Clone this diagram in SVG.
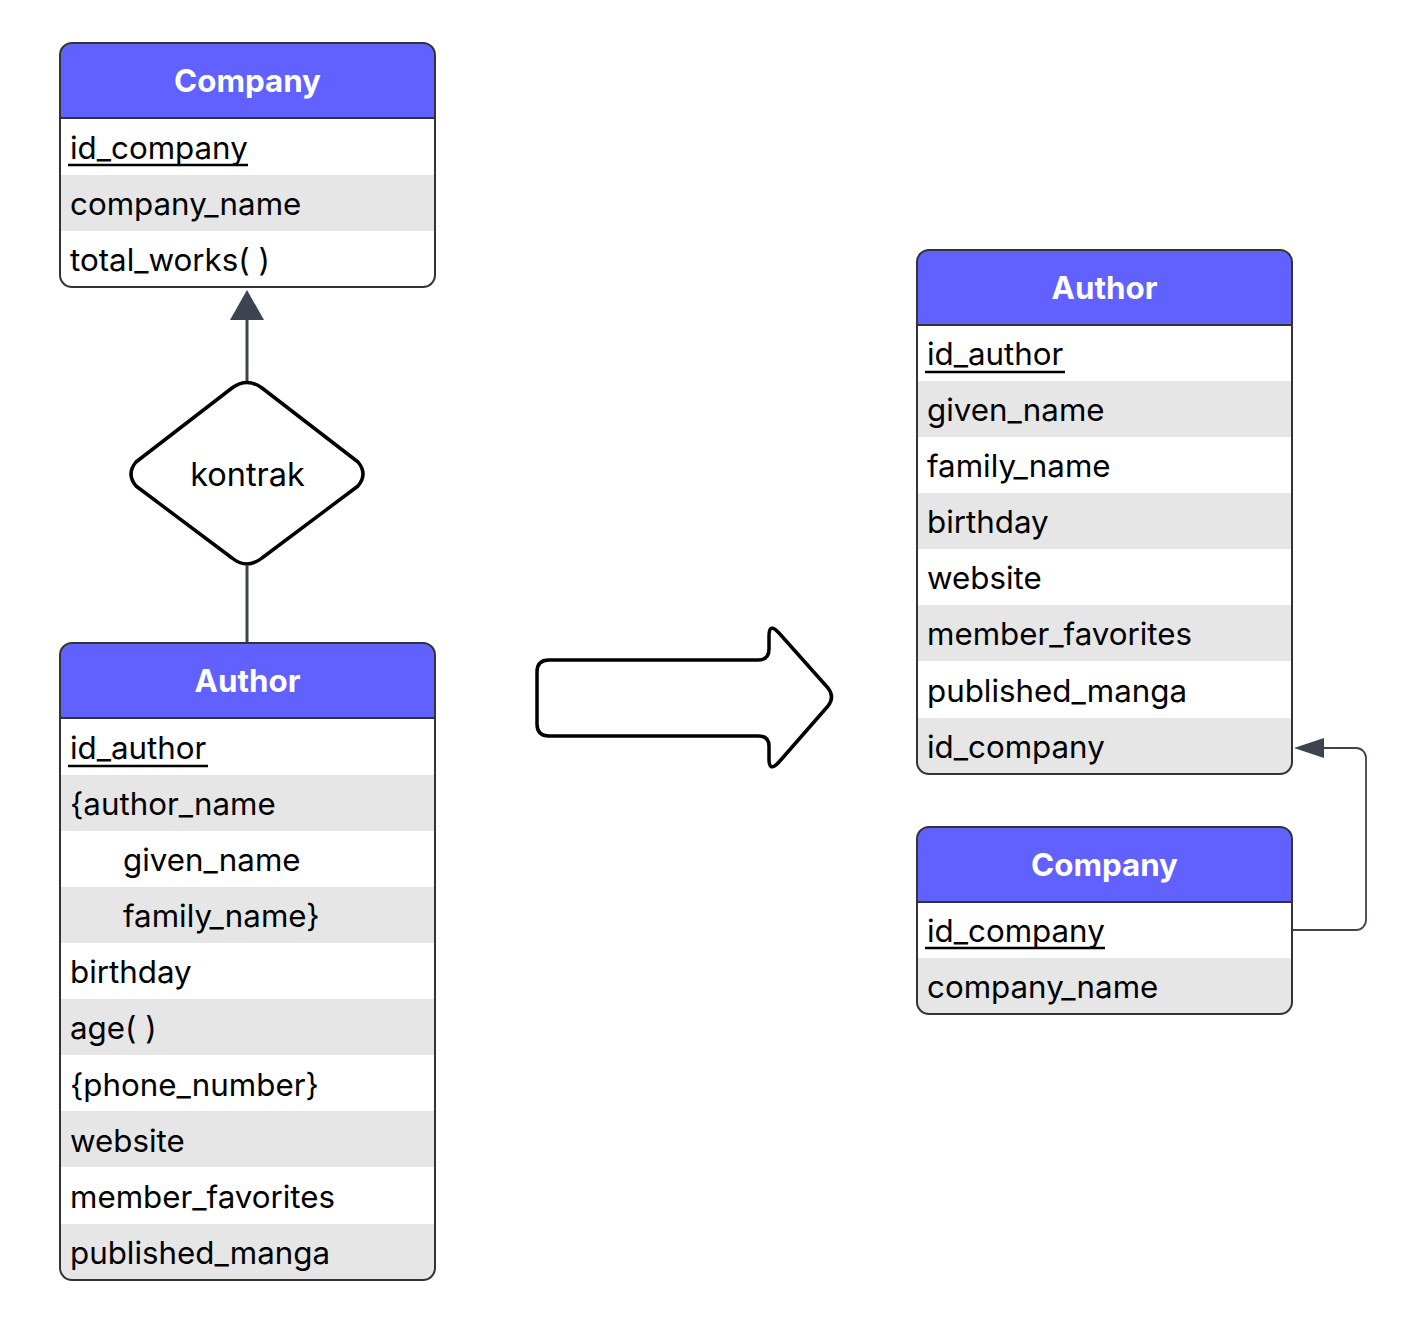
<svg xmlns="http://www.w3.org/2000/svg" width="1416" height="1330" viewBox="0 0 1416 1330">
<style>
.box{fill:none;stroke:#333333;stroke-width:2}
.hdr{fill:#6161ff}
.gray{fill:#e6e6e6}
.sep{stroke:#333333;stroke-width:2}
.ht{font-family:Inter,"Liberation Sans",sans-serif;font-size:31.3px;font-weight:700;fill:#ffffff;text-anchor:middle}
.t{font-family:Inter,"Liberation Sans",sans-serif;font-size:31.3px;fill:#000000}
.ul{stroke:#000000;stroke-width:2.5}
.conn{fill:none;stroke:#3d4450;stroke-width:3}
.conn2{fill:none;stroke:#3d4450;stroke-width:1.8}
</style>
<defs>
<clipPath id="c1"><rect x="60" y="43" width="375" height="244" rx="12"/></clipPath>
<clipPath id="c2"><rect x="60" y="643" width="375" height="637" rx="12"/></clipPath>
<clipPath id="c3"><rect x="917" y="250" width="375" height="524" rx="12"/></clipPath>
<clipPath id="c4"><rect x="917" y="827" width="375" height="187" rx="12"/></clipPath>
</defs>
<g id="connectors">
<line class="conn" x1="247" y1="383" x2="247" y2="318"/>
<polygon points="247,290 230,320 264,320" fill="#3d4450"/>
<line class="conn" x1="247" y1="566" x2="247" y2="643"/>
<path class="conn2" d="M1292,930 H1356 A10,10 0 0 0 1366,920 V758 A10,10 0 0 0 1356,748 H1322"/>
<polygon points="1294,748 1324,738 1324,758" fill="#3d4450"/>
</g>
<g id="company-left">
<g clip-path="url(#c1)">
<rect x="60" y="43" width="375" height="244" fill="#ffffff"/>
<rect class="hdr" x="60" y="43" width="375" height="75"/>
<rect class="gray" x="60" y="175" width="375" height="56"/>
</g>
<line class="sep" x1="60" y1="118" x2="435" y2="118"/>
<rect class="box" x="60" y="43" width="375" height="244" rx="12"/>
<text class="ht" x="247.5" y="92">Company</text>
<text class="t" x="70" y="159">id_company</text>
<line class="ul" x1="68" y1="165" x2="248" y2="165"/>
<text class="t" x="70" y="215">company_name</text>
<text class="t" x="70" y="271">total_works( )</text>
</g>
<g id="kontrak">
<path d="M232,388 Q247,377 262,388 L358,462 Q368,474 358,486 L262,558 Q247,570 232,558 L136,486 Q126,474 136,462 Z" fill="#ffffff" stroke="#000000" stroke-width="3.5" stroke-linejoin="round"/>
<text class="t" x="247.5" y="486" text-anchor="middle" style="font-size:32.5px">kontrak</text>
</g>
<g id="author-left">
<g clip-path="url(#c2)">
<rect x="60" y="643" width="375" height="637" fill="#ffffff"/>
<rect class="hdr" x="60" y="643" width="375" height="75"/>
<rect class="gray" x="60" y="775" width="375" height="56"/>
<rect class="gray" x="60" y="887" width="375" height="56"/>
<rect class="gray" x="60" y="999" width="375" height="56"/>
<rect class="gray" x="60" y="1111" width="375" height="56"/>
<rect class="gray" x="60" y="1224" width="375" height="56"/>
</g>
<line class="sep" x1="60" y1="718" x2="435" y2="718"/>
<rect class="box" x="60" y="643" width="375" height="637" rx="12"/>
<text class="ht" x="247.5" y="692">Author</text>
<text class="t" x="70" y="759">id_author</text>
<line class="ul" x1="68" y1="766" x2="208" y2="766"/>
<text class="t" x="70" y="815">{author_name</text>
<text class="t" x="123" y="871">given_name</text>
<text class="t" x="123" y="927">family_name}</text>
<text class="t" x="70" y="983">birthday</text>
<text class="t" x="70" y="1039">age( )</text>
<text class="t" x="70" y="1096">{phone_number}</text>
<text class="t" x="70" y="1152">website</text>
<text class="t" x="70" y="1208">member_favorites</text>
<text class="t" x="70" y="1264">published_manga</text>
</g>
<g id="transform-arrow">
<path d="M549,660 H758 Q769,660 769,649 V636 Q769,622 779,633 L828,688 Q835,697 828,706 L779,762 Q769,773 769,759 V746 Q769,736 758,736 H549 Q537,736 537,724 V672 Q537,660 549,660 Z" fill="#ffffff" stroke="#000000" stroke-width="3.5" stroke-linejoin="round"/>
</g>
<g id="author-right">
<g clip-path="url(#c3)">
<rect x="917" y="250" width="375" height="524" fill="#ffffff"/>
<rect class="hdr" x="917" y="250" width="375" height="75"/>
<rect class="gray" x="917" y="381" width="375" height="56"/>
<rect class="gray" x="917" y="493" width="375" height="56"/>
<rect class="gray" x="917" y="605" width="375" height="56"/>
<rect class="gray" x="917" y="718" width="375" height="56"/>
</g>
<line class="sep" x1="917" y1="325" x2="1292" y2="325"/>
<rect class="box" x="917" y="250" width="375" height="524" rx="12"/>
<text class="ht" x="1104.5" y="299">Author</text>
<text class="t" x="927" y="365">id_author</text>
<line class="ul" x1="925" y1="372" x2="1065" y2="372"/>
<text class="t" x="927" y="421">given_name</text>
<text class="t" x="927" y="477">family_name</text>
<text class="t" x="927" y="533">birthday</text>
<text class="t" x="927" y="589">website</text>
<text class="t" x="927" y="645">member_favorites</text>
<text class="t" x="927" y="702">published_manga</text>
<text class="t" x="927" y="758">id_company</text>
</g>
<g id="company-right">
<g clip-path="url(#c4)">
<rect x="917" y="827" width="375" height="187" fill="#ffffff"/>
<rect class="hdr" x="917" y="827" width="375" height="75"/>
<rect class="gray" x="917" y="958" width="375" height="56"/>
</g>
<line class="sep" x1="917" y1="902" x2="1292" y2="902"/>
<rect class="box" x="917" y="827" width="375" height="187" rx="12"/>
<text class="ht" x="1104.5" y="876">Company</text>
<text class="t" x="927" y="942">id_company</text>
<line class="ul" x1="925" y1="948" x2="1105" y2="948"/>
<text class="t" x="927" y="998">company_name</text>
</g>
</svg>
